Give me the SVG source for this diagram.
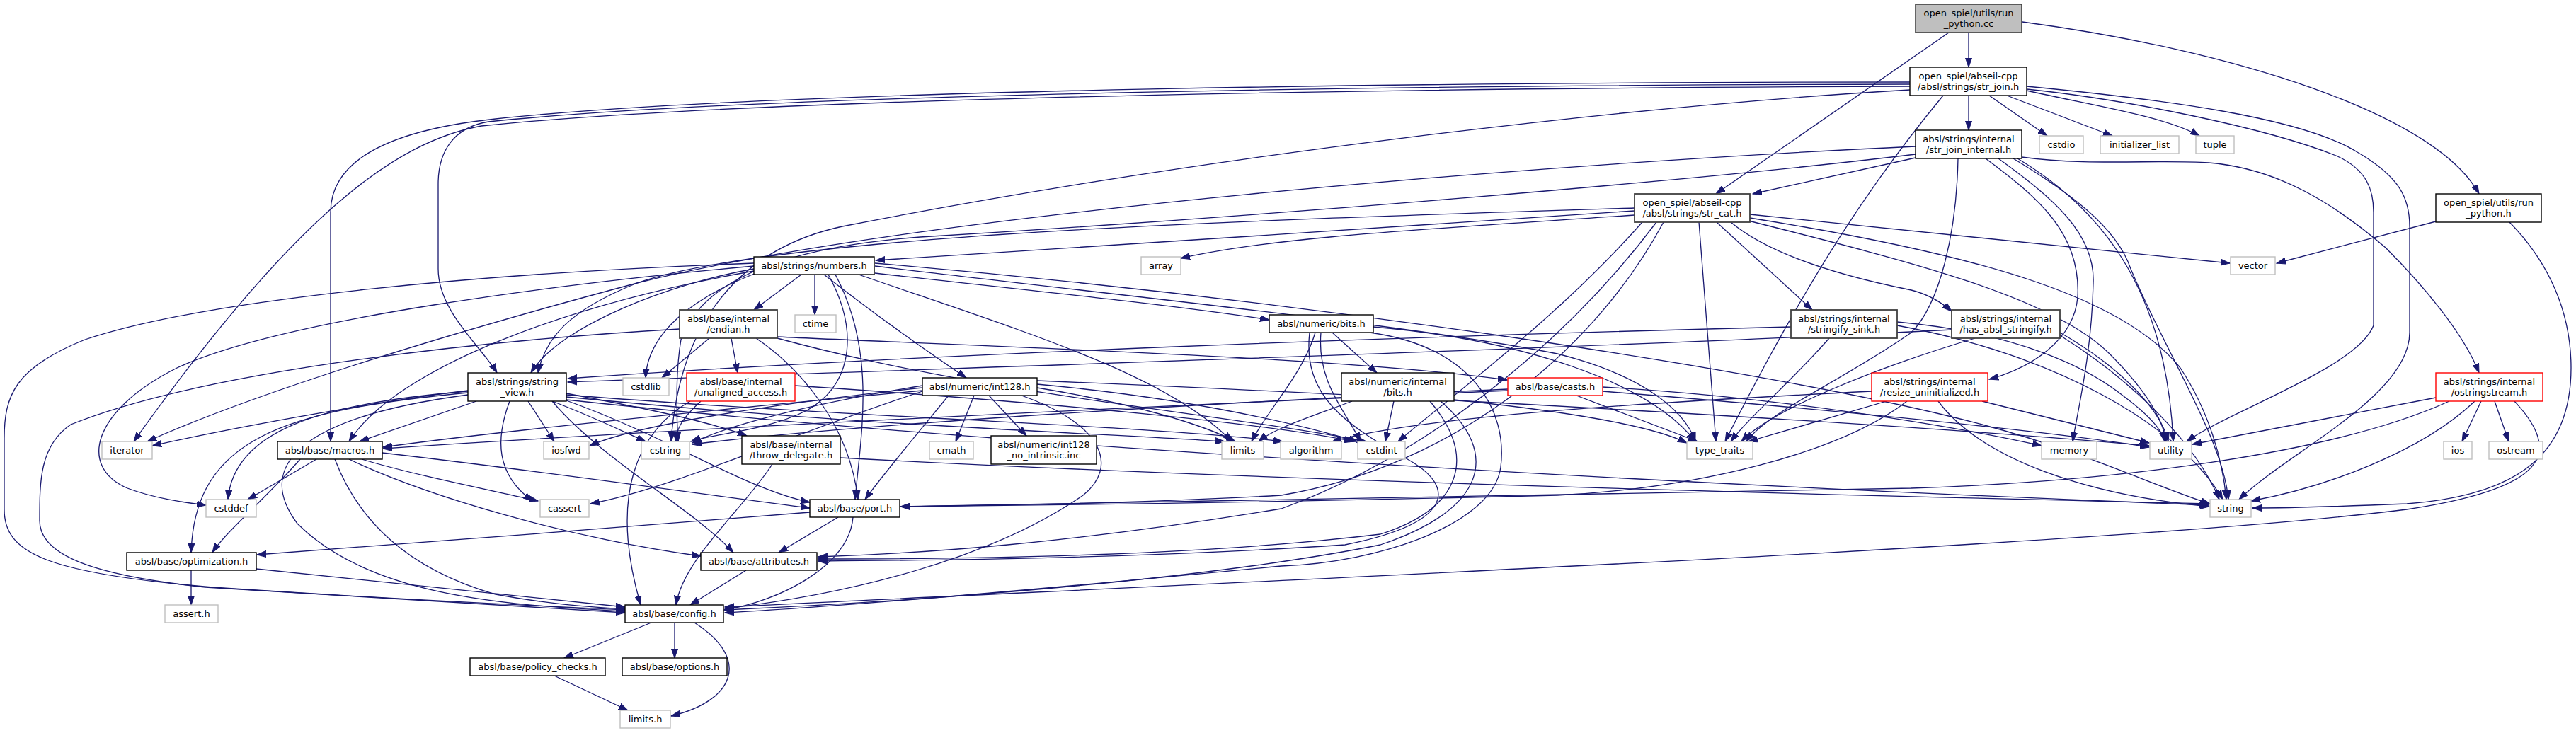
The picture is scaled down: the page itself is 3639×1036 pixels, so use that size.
<svg xmlns="http://www.w3.org/2000/svg" width="3639" height="1036" viewBox="0 0 3639 1036">
<style>
.nd rect{fill:#fff;stroke:#000;stroke-width:1.4}
.nd.gr rect{stroke:#bfbfbf}
.nd.rd rect{stroke:#ff0000}
.nd.dk rect{stroke:#404040;stroke-width:1.8}
.nd.rt rect{fill:#bfbfbf;stroke:#404040;stroke-width:1.6}
text{font-family:"DejaVu Sans",sans-serif;font-size:13px;fill:#000;text-anchor:middle}
#edges path{fill:none;stroke:#191970;stroke-width:1.3;marker-end:url(#ah)}
</style>
<defs>
<marker id="ah" markerUnits="userSpaceOnUse" markerWidth="14" markerHeight="10" refX="13" refY="5" orient="auto" viewBox="0 0 14 10"><path d="M0,0.5 L13,5 L0,9.5 z" fill="#191970" stroke="#191970" stroke-width="1"/></marker>
</defs>
<rect width="3639" height="1036" fill="#fff"/>
<g id="edges">
<path d="M2781,46 L2781,95"/>
<path d="M2753,46 L2424,274"/>
<path d="M2857,31 C3150,70 3440,160 3502,274"/>
<path d="M2781,135 L2781,184"/>
<path d="M2810,135 L2892,192"/>
<path d="M2835,135 L2984,192"/>
<path d="M2863,128 C2960,150 3060,165 3107,192"/>
<path d="M2863,122 C3050,140 3250,165 3330,215 C3390,250 3404,280 3404,320 L3404,470 C3404,560 3230,640 3163,706"/>
<path d="M2863,126 C3000,140 3200,180 3300,220 C3345,240 3353,270 3353,300 L3353,460 C3330,520 3150,580 3089,624"/>
<path d="M2745,135 C2650,250 2560,380 2437,624"/>
<path d="M2698,116 C2100,116 1100,125 700,168 C540,185 467,230 467,300 L467,624"/>
<path d="M2698,119 C2100,120 1100,130 690,172 C640,180 619,215 619,260 L619,380 C619,440 680,490 702,527"/>
<path d="M2698,122 C2100,124 1100,135 680,178 C560,200 420,300 189,624"/>
<path d="M2698,127 C2300,150 1700,220 1190,320 C1050,350 960,450 948,624"/>
<path d="M2706,223 L2476,274"/>
<path d="M2856,222 C2950,235 3050,225 3120,230 C3220,238 3300,290 3370,350 C3420,400 3480,470 3502,527"/>
<path d="M2805,224 C2880,280 2940,330 2935,420 C2930,480 2870,520 2810,536"/>
<path d="M2823,224 C2900,280 2960,330 2957,400 C2955,500 2935,580 2928,624"/>
<path d="M2844,224 C2920,270 2990,320 3010,380 C3060,500 3140,620 3148,706"/>
<path d="M2766,224 C2764,330 2740,430 2700,470 C2600,540 2500,580 2467,624"/>
<path d="M2850,224 C2960,290 3060,400 3070,624"/>
<path d="M2706,207 C2200,230 1300,300 900,400 C600,480 350,560 208,624"/>
<path d="M2706,218 C2400,255 1800,305 1300,335 C1100,350 990,400 962,480 C955,520 955,580 958,624"/>
<path d="M3441,313 L3216,372"/>
<path d="M3545,314 C3600,370 3632,440 3632,520 C3632,640 3560,700 3400,712 C3300,716 3230,718 3182,718"/>
<path d="M2309,298 C2000,320 1500,350 1237,368"/>
<path d="M2309,304 C2000,325 1800,335 1668,365"/>
<path d="M2472,303 L3150,372"/>
<path d="M2425,314 L2560,438"/>
<path d="M2445,314 C2500,360 2600,390 2700,410 C2720,415 2740,425 2757,440"/>
<path d="M2309,294 C1800,310 1100,330 900,400 C800,440 770,480 760,527"/>
<path d="M2340,314 C2200,500 2000,650 1810,719 C1500,770 1300,782 1156,787"/>
<path d="M2350,314 C2250,500 2050,660 1810,700 C1600,712 1400,714 1273,716"/>
<path d="M2320,314 C2200,450 2050,560 1975,624"/>
<path d="M2472,308 C2800,360 3000,420 3080,520 C3120,580 3140,650 3145,706"/>
<path d="M2470,312 C2700,370 2900,420 2980,500 C3030,550 3055,590 3060,624"/>
<path d="M2400,314 L2424,624"/>
<path d="M1132,388 L1065,438"/>
<path d="M1151,388 L1151,445"/>
<path d="M1164,388 C1230,440 1300,490 1365,534"/>
<path d="M1236,386 C1450,410 1650,430 1793,452"/>
<path d="M1213,388 C1450,470 1650,530 1740,624"/>
<path d="M1236,376 C1600,420 2000,460 2200,500 C2320,530 2380,580 2395,624"/>
<path d="M1236,372 C1800,420 2500,520 2800,600 C2950,640 3050,690 3122,712"/>
<path d="M1065,380 C950,400 790,460 750,527"/>
<path d="M1068,386 C980,420 915,470 912,534"/>
<path d="M1170,388 C1210,460 1210,540 1140,580 C1080,610 1010,612 976,624"/>
<path d="M1065,376 C800,400 400,450 250,520 C130,580 110,660 180,690 C220,705 260,710 291,714"/>
<path d="M1065,372 C700,385 300,420 120,480 C20,520 6,560 6,620 L6,720 C6,780 60,810 300,830 C600,850 800,858 883,862"/>
<path d="M1065,383 C800,430 560,520 493,624"/>
<path d="M1180,388 C1240,500 1215,620 1208,706"/>
<path d="M1002,478 L935,534"/>
<path d="M1033,478 L1042,527"/>
<path d="M1098,476 C1400,490 1900,505 2129,537"/>
<path d="M1098,478 C1400,560 1700,580 1930,624"/>
<path d="M960,465 C700,480 300,520 100,600 C56,630 56,680 56,736 C56,790 150,815 290,830 C600,850 800,860 883,866"/>
<path d="M1068,478 C1130,520 1200,600 1212,706"/>
<path d="M1882,470 L1945,527"/>
<path d="M1858,470 C1840,530 1790,580 1768,624"/>
<path d="M1866,470 C1860,540 1900,580 1922,624"/>
<path d="M1940,462 C2150,480 2330,540 2395,624"/>
<path d="M1935,470 C2080,490 2130,580 2120,660 C2110,740 1950,795 1810,800 C1500,830 1200,857 1024,866"/>
<path d="M1850,470 C1840,560 1900,600 1990,650 C2060,690 2050,740 1900,770 C1600,790 1300,792 1156,793"/>
<path d="M1969,567 L1957,624"/>
<path d="M1910,567 C1850,590 1800,605 1778,624"/>
<path d="M2054,565 C2200,580 2330,600 2383,626"/>
<path d="M2035,567 C2120,640 2100,720 1950,770 C1700,820 1300,850 1024,862"/>
<path d="M2020,567 C2090,650 2060,720 1950,755 C1700,785 1400,790 1156,790"/>
<path d="M2584,478 C2530,540 2470,590 2445,624"/>
<path d="M2530,462 C2000,475 1300,500 802,535"/>
<path d="M2680,455 C2850,470 2950,520 3000,560 C3040,590 3055,610 3058,624"/>
<path d="M2680,460 C2900,500 3080,600 3140,706"/>
<path d="M2790,478 C2650,520 2500,580 2460,624"/>
<path d="M2757,466 C2300,490 1500,515 802,540"/>
<path d="M2910,470 C2980,510 3050,570 3063,624"/>
<path d="M2910,474 C3000,530 3100,620 3135,706"/>
<path d="M661,552 C550,565 350,600 215,630"/>
<path d="M673,567 L508,624"/>
<path d="M746,567 L783,624"/>
<path d="M780,567 C840,590 880,610 912,624"/>
<path d="M661,553 C450,570 330,610 322,706"/>
<path d="M661,555 C400,580 275,620 270,781"/>
<path d="M661,558 C420,590 360,660 420,740 C520,840 700,855 883,864"/>
<path d="M720,567 C700,620 700,670 752,708"/>
<path d="M800,558 C1200,590 1600,600 1812,624"/>
<path d="M800,561 C1200,600 1500,610 1730,624"/>
<path d="M800,565 C1500,640 2500,690 3120,714"/>
<path d="M780,567 C850,650 980,720 1036,781"/>
<path d="M800,566 C950,620 1050,690 1144,710"/>
<path d="M800,556 C900,575 1000,595 1055,616"/>
<path d="M990,567 C965,590 955,605 955,624"/>
<path d="M1123,545 C1500,570 1800,600 1912,624"/>
<path d="M975,567 C900,610 860,700 905,855"/>
<path d="M1376,559 L1350,624"/>
<path d="M1397,559 L1450,616"/>
<path d="M1303,553 C1100,620 950,690 834,712"/>
<path d="M1465,543 C1650,560 1800,590 1918,624"/>
<path d="M1303,545 C1150,570 1030,600 978,626"/>
<path d="M1303,548 C1100,570 900,600 833,630"/>
<path d="M1465,548 C1600,570 1700,600 1745,624"/>
<path d="M1465,538 C2000,560 2700,600 3036,630"/>
<path d="M1443,559 C1560,600 1580,660 1530,700 C1400,790 1200,840 1024,860"/>
<path d="M1303,552 C1000,580 700,610 541,632"/>
<path d="M1340,559 C1290,620 1240,680 1222,706"/>
<path d="M2130,550 C1700,570 1200,600 978,628"/>
<path d="M2264,547 C2500,560 2750,600 2884,630"/>
<path d="M2227,559 L2398,624"/>
<path d="M2264,553 C2600,580 2900,610 3036,632"/>
<path d="M2130,552 C1500,580 900,610 541,634"/>
<path d="M2644,553 C2300,570 2000,590 1882,624"/>
<path d="M2665,567 L2470,624"/>
<path d="M2800,567 L3036,626"/>
<path d="M2738,567 C2800,650 2950,700 3121,716"/>
<path d="M2694,567 C2600,640 2400,690 2200,700 C1800,710 1500,714 1272,716"/>
<path d="M3505,567 L3478,624"/>
<path d="M3524,567 L3544,624"/>
<path d="M3441,562 L3097,628"/>
<path d="M3496,567 C3420,640 3280,690 3180,708"/>
<path d="M3552,567 C3620,640 3600,690 3400,720 C3000,770 1800,820 1024,858"/>
<path d="M3460,567 C3300,640 3000,680 2700,690 C2200,700 1700,710 1273,716"/>
<path d="M511,649 C580,670 680,690 760,708"/>
<path d="M447,649 L350,706"/>
<path d="M493,649 C600,700 800,760 990,786"/>
<path d="M473,649 C500,720 560,800 700,840 C780,855 840,858 883,861"/>
<path d="M424,649 C380,700 320,750 300,781"/>
<path d="M540,640 C800,670 1000,700 1144,718"/>
<path d="M1187,647 C1800,680 2600,700 3121,712"/>
<path d="M1091,656 C1050,720 965,790 955,855"/>
<path d="M1184,731 L1100,781"/>
<path d="M1205,731 C1200,800 1100,850 1023,862"/>
<path d="M1144,724 C900,745 600,765 363,784"/>
<path d="M270,806 L270,855"/>
<path d="M362,804 C600,830 800,850 883,858"/>
<path d="M1054,806 L975,855"/>
<path d="M920,880 L797,930"/>
<path d="M953,880 L953,930"/>
<path d="M981,880 C1060,930 1040,990 948,1012"/>
<path d="M783,955 L887,1004"/>
</g>
<g id="n_root" class="nd rt"><rect x="2706" y="6" width="150" height="40"/><text x="2781" y="23">open_spiel/utils/run</text><text x="2781" y="38">_python.cc</text></g>
<g id="n_str_join" class="nd"><rect x="2698" y="95" width="165" height="40"/><text x="2780.5" y="112">open_spiel/abseil-cpp</text><text x="2780.5" y="127">/absl/strings/str_join.h</text></g>
<g id="n_str_join_internal" class="nd"><rect x="2706" y="184" width="150" height="40"/><text x="2781" y="201">absl/strings/internal</text><text x="2781" y="216">/str_join_internal.h</text></g>
<g id="n_cstdio" class="nd gr"><rect x="2881" y="192" width="62" height="25"/><text x="2912" y="209">cstdio</text></g>
<g id="n_initializer_list" class="nd gr"><rect x="2967" y="192" width="111" height="25"/><text x="3022.5" y="209">initializer_list</text></g>
<g id="n_tuple" class="nd gr"><rect x="3102" y="192" width="54" height="25"/><text x="3129" y="209">tuple</text></g>
<g id="n_run_python_h" class="nd"><rect x="3441" y="274" width="149" height="40"/><text x="3515.5" y="291">open_spiel/utils/run</text><text x="3515.5" y="306">_python.h</text></g>
<g id="n_str_cat" class="nd dk"><rect x="2309" y="274" width="163" height="40"/><text x="2390.5" y="291">open_spiel/abseil-cpp</text><text x="2390.5" y="306">/absl/strings/str_cat.h</text></g>
<g id="n_numbers" class="nd"><rect x="1065" y="363" width="170" height="25"/><text x="1150" y="380">absl/strings/numbers.h</text></g>
<g id="n_array" class="nd gr"><rect x="1612" y="363" width="56" height="25"/><text x="1640" y="380">array</text></g>
<g id="n_vector" class="nd gr"><rect x="3151" y="363" width="63" height="25"/><text x="3182.5" y="380">vector</text></g>
<g id="n_endian" class="nd dk"><rect x="960" y="438" width="138" height="40"/><text x="1029" y="455">absl/base/internal</text><text x="1029" y="470">/endian.h</text></g>
<g id="n_ctime" class="nd gr"><rect x="1123" y="445" width="58" height="25"/><text x="1152" y="462">ctime</text></g>
<g id="n_bits" class="nd"><rect x="1793" y="445" width="147" height="25"/><text x="1866.5" y="462">absl/numeric/bits.h</text></g>
<g id="n_stringify_sink" class="nd dk"><rect x="2530" y="438" width="150" height="40"/><text x="2605" y="455">absl/strings/internal</text><text x="2605" y="470">/stringify_sink.h</text></g>
<g id="n_has_absl_stringify" class="nd dk"><rect x="2757" y="438" width="153" height="40"/><text x="2833.5" y="455">absl/strings/internal</text><text x="2833.5" y="470">/has_absl_stringify.h</text></g>
<g id="n_string_view" class="nd"><rect x="661" y="527" width="139" height="40"/><text x="730.5" y="544">absl/strings/string</text><text x="730.5" y="559">_view.h</text></g>
<g id="n_cstdlib" class="nd gr"><rect x="880" y="534" width="65" height="25"/><text x="912.5" y="551">cstdlib</text></g>
<g id="n_unaligned_access" class="nd rd"><rect x="970" y="527" width="153" height="40"/><text x="1046.5" y="544">absl/base/internal</text><text x="1046.5" y="559">/unaligned_access.h</text></g>
<g id="n_int128" class="nd"><rect x="1303" y="534" width="162" height="25"/><text x="1384" y="551">absl/numeric/int128.h</text></g>
<g id="n_internal_bits" class="nd"><rect x="1895" y="527" width="159" height="40"/><text x="1974.5" y="544">absl/numeric/internal</text><text x="1974.5" y="559">/bits.h</text></g>
<g id="n_casts" class="nd rd"><rect x="2130" y="534" width="134" height="25"/><text x="2197" y="551">absl/base/casts.h</text></g>
<g id="n_resize_uninitialized" class="nd rd"><rect x="2644" y="527" width="164" height="40"/><text x="2726" y="544">absl/strings/internal</text><text x="2726" y="559">/resize_uninitialized.h</text></g>
<g id="n_ostringstream" class="nd rd"><rect x="3441" y="527" width="151" height="40"/><text x="3516.5" y="544">absl/strings/internal</text><text x="3516.5" y="559">/ostringstream.h</text></g>
<g id="n_iterator" class="nd gr"><rect x="144" y="624" width="71" height="25"/><text x="179.5" y="641">iterator</text></g>
<g id="n_macros" class="nd"><rect x="392" y="624" width="148" height="25"/><text x="466" y="641">absl/base/macros.h</text></g>
<g id="n_iosfwd" class="nd gr"><rect x="768" y="624" width="64" height="25"/><text x="800" y="641">iosfwd</text></g>
<g id="n_cstring" class="nd gr"><rect x="906" y="624" width="68" height="25"/><text x="940" y="641">cstring</text></g>
<g id="n_throw_delegate" class="nd"><rect x="1048" y="616" width="139" height="40"/><text x="1117.5" y="633">absl/base/internal</text><text x="1117.5" y="648">/throw_delegate.h</text></g>
<g id="n_cmath" class="nd gr"><rect x="1313" y="624" width="62" height="25"/><text x="1344" y="641">cmath</text></g>
<g id="n_int128_no_intrinsic" class="nd"><rect x="1400" y="616" width="149" height="40"/><text x="1474.5" y="633">absl/numeric/int128</text><text x="1474.5" y="648">_no_intrinsic.inc</text></g>
<g id="n_limits" class="nd gr"><rect x="1726" y="624" width="59" height="25"/><text x="1755.5" y="641">limits</text></g>
<g id="n_algorithm" class="nd gr"><rect x="1809" y="624" width="86" height="25"/><text x="1852" y="641">algorithm</text></g>
<g id="n_cstdint" class="nd gr"><rect x="1918" y="624" width="67" height="25"/><text x="1951.5" y="641">cstdint</text></g>
<g id="n_type_traits" class="nd gr"><rect x="2383" y="624" width="93" height="25"/><text x="2429.5" y="641">type_traits</text></g>
<g id="n_memory" class="nd gr"><rect x="2884" y="624" width="78" height="25"/><text x="2923" y="641">memory</text></g>
<g id="n_utility" class="nd gr"><rect x="3037" y="624" width="59" height="25"/><text x="3066.5" y="641">utility</text></g>
<g id="n_ios" class="nd gr"><rect x="3452" y="624" width="40" height="25"/><text x="3472" y="641">ios</text></g>
<g id="n_ostream" class="nd gr"><rect x="3516" y="624" width="76" height="25"/><text x="3554" y="641">ostream</text></g>
<g id="n_cstddef" class="nd gr"><rect x="291" y="706" width="71" height="25"/><text x="326.5" y="723">cstddef</text></g>
<g id="n_cassert" class="nd gr"><rect x="763" y="706" width="69" height="25"/><text x="797.5" y="723">cassert</text></g>
<g id="n_port" class="nd"><rect x="1144" y="706" width="127" height="25"/><text x="1207.5" y="723">absl/base/port.h</text></g>
<g id="n_string" class="nd gr"><rect x="3122" y="706" width="58" height="25"/><text x="3151" y="723">string</text></g>
<g id="n_optimization" class="nd"><rect x="179" y="781" width="183" height="25"/><text x="270.5" y="798">absl/base/optimization.h</text></g>
<g id="n_attributes" class="nd"><rect x="990" y="781" width="164" height="25"/><text x="1072" y="798">absl/base/attributes.h</text></g>
<g id="n_assert_h" class="nd gr"><rect x="233" y="855" width="75" height="25"/><text x="270.5" y="872">assert.h</text></g>
<g id="n_config" class="nd"><rect x="883" y="855" width="139" height="25"/><text x="952.5" y="872">absl/base/config.h</text></g>
<g id="n_policy_checks" class="nd"><rect x="664" y="930" width="191" height="25"/><text x="759.5" y="947">absl/base/policy_checks.h</text></g>
<g id="n_options" class="nd"><rect x="879" y="930" width="148" height="25"/><text x="953" y="947">absl/base/options.h</text></g>
<g id="n_limits_h" class="nd gr"><rect x="876" y="1004" width="71" height="25"/><text x="911.5" y="1021">limits.h</text></g>
</svg>
